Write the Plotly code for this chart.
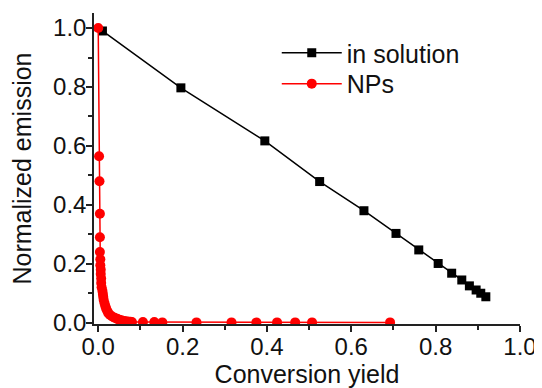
import plotly.graph_objects as go

# in solution
sol_x = [0.01, 0.196, 0.395, 0.525, 0.63, 0.706, 0.76, 0.806, 0.838, 0.862, 0.88, 0.896, 0.907, 0.919]
sol_y = [0.99, 0.797, 0.617, 0.479, 0.38, 0.303, 0.247, 0.201, 0.168, 0.145, 0.125, 0.111, 0.1, 0.088]

# NPs
np_x = [0.0, 0.002, 0.003, 0.004, 0.004, 0.004, 0.005, 0.005, 0.006, 0.006, 0.007, 0.007, 0.008,
        0.010, 0.011, 0.012, 0.013, 0.015, 0.017, 0.019, 0.022, 0.024, 0.028, 0.033, 0.039,
        0.045, 0.050, 0.055, 0.060, 0.064, 0.068, 0.072, 0.076, 0.080,
        0.106, 0.133, 0.152, 0.233, 0.316, 0.375, 0.424, 0.467, 0.507, 0.692]
np_y = [1.0, 0.565, 0.48, 0.37, 0.29, 0.24, 0.215, 0.195, 0.18, 0.165, 0.15, 0.135, 0.12,
        0.108, 0.097, 0.087, 0.077, 0.066, 0.056, 0.047, 0.039, 0.032, 0.026, 0.021, 0.017,
        0.013, 0.010, 0.008, 0.006, 0.005, 0.004, 0.003, 0.003, 0.002,
        0.002, 0.002, 0.001, 0.001, 0.001, 0.001, 0.001, 0.001, 0.001, 0.001]

FONT = "Arial, Liberation Sans, sans-serif"

fig = go.Figure()
fig.add_trace(go.Scatter(
    x=sol_x, y=sol_y, name="in solution", mode="lines+markers",
    line=dict(color="black", width=1.5),
    marker=dict(symbol="square", size=9, color="black"),
    legend="legend",
))
fig.add_trace(go.Scatter(
    x=np_x, y=np_y, name="NPs", mode="lines+markers",
    line=dict(color="#ff0000", width=1.5),
    marker=dict(symbol="circle", size=10, color="#ff0000"),
    legend="legend2",
))

axis_common = dict(
    showline=True, linecolor="#222", linewidth=1.5,
    ticks="outside", ticklen=6, tickwidth=1.5, tickcolor="#222",
    showgrid=False, zeroline=False,
    tickfont=dict(family=FONT, size=24, color="#111"),
    tickformat=".1f", dtick=0.2, tick0=0,
)

fig.update_xaxes(
    range=[-0.01, 1.0],
    ticklabelstandoff=-6,
    title=dict(text="Conversion yield", font=dict(family=FONT, size=25, color="#111"), standoff=0),
    minor=dict(ticks="outside", ticklen=4, tickwidth=1.5, tickcolor="#222", dtick=0.1),
    **axis_common,
)
fig.update_yaxes(
    range=[-0.0044, 1.051],
    ticklabelstandoff=-5,
    title=dict(text="Normalized emission", font=dict(family=FONT, size=25, color="#111"), standoff=23),
    minor=dict(ticks="outside", ticklen=4, tickwidth=1.5, tickcolor="#222", dtick=0.1),
    **axis_common,
)

legend_common = dict(
    xanchor="left", yanchor="top",
    font=dict(family=FONT, size=25, color="#111"),
    bgcolor="rgba(0,0,0,0)", itemwidth=60,
)

fig.update_layout(
    width=542, height=388,
    margin=dict(l=86, r=30, t=5, b=72, autoexpand=False),
    plot_bgcolor="white", paper_bgcolor="white",
    showlegend=True,
    legend=dict(x=0.429, y=0.945, **legend_common),
    legend2=dict(x=0.429, y=0.846, **legend_common),
)

fig.write_html("out.html")
